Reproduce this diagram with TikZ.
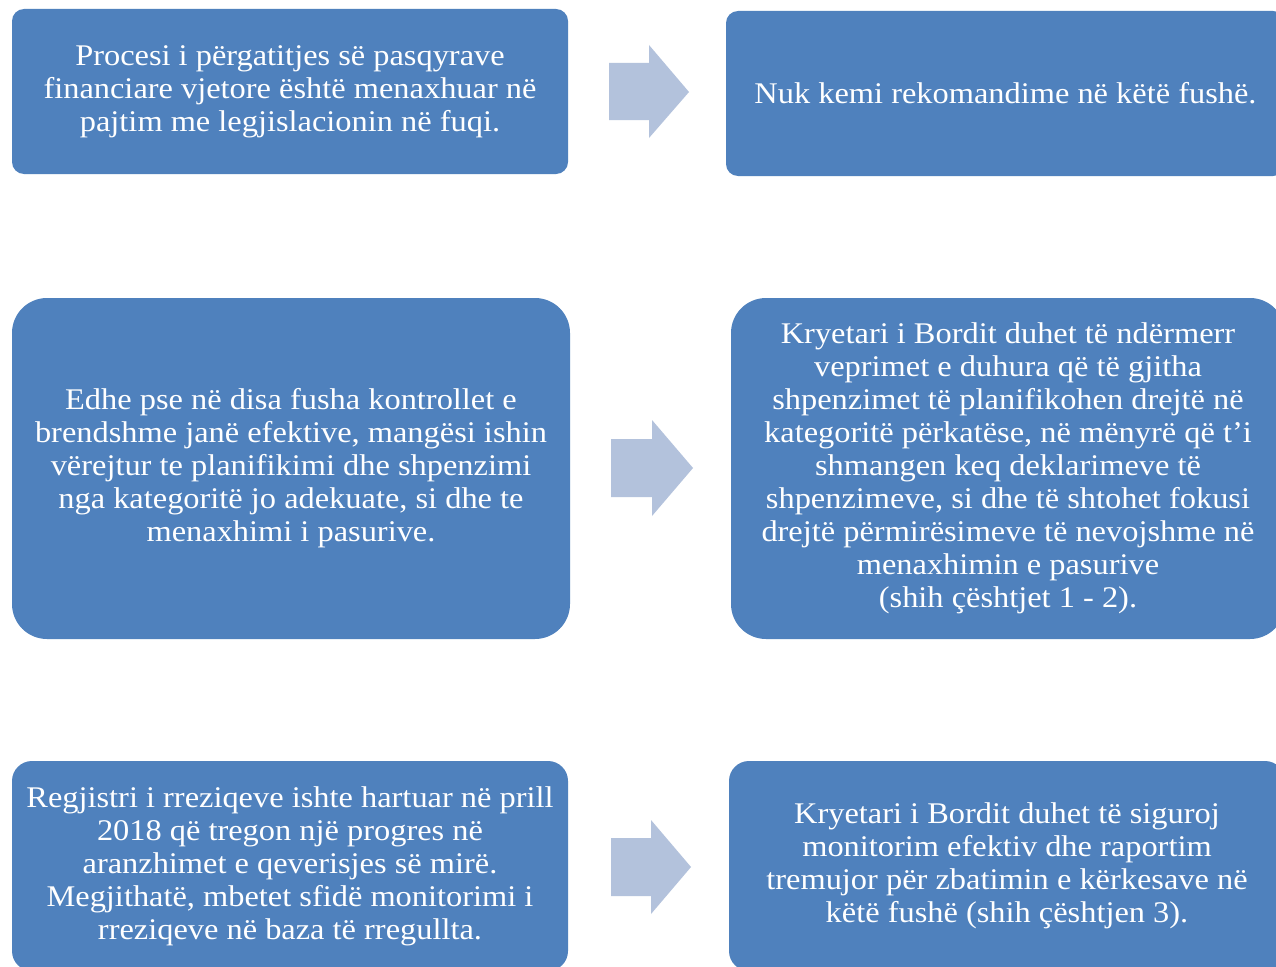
\documentclass[tikz,border=0pt]{standalone}
\usepackage{fontspec}
\setmainfont{Liberation Serif}[FakeStretch=1.08]
\definecolor{boxblue}{HTML}{4F81BD}
\definecolor{arrowblue}{HTML}{B3C2DC}
\begin{document}
\begin{tikzpicture}[x=1pt,y=-1pt,
  box/.style={fill=boxblue, draw=none, text=white, align=center,
    font=\fontsize{30}{33}\selectfont, inner sep=0pt},
  blockarrow/.style={fill=arrowblue, draw=none}]
\clip (0,0) rectangle (1276,966);
\fill[white] (0,0) rectangle (1276,966);
% boxes
\node[box, rounded corners=12pt, minimum width=556pt, minimum height=165pt] (b1) at (290,91.5)
  {Procesi i përgatitjes së pasqyrave\\financiare vjetore është menaxhuar në\\pajtim me legjislacionin në fuqi.};
\node[box, rounded corners=12pt, minimum width=559pt, minimum height=165pt] (b2) at (1005.5,93.5)
  {Nuk kemi rekomandime në këtë fushë.};
\node[box, rounded corners=35pt, minimum width=558pt, minimum height=341pt] (b3) at (291,468.5)
  {Edhe pse në disa fusha kontrollet e\\brendshme janë efektive, mangësi ishin\\vërejtur te planifikimi dhe shpenzimi\\nga kategoritë jo adekuate, si dhe te\\menaxhimi i pasurive.};
\node[box, rounded corners=35pt, minimum width=554pt, minimum height=341pt] (b4) at (1008,468.5)
  {Kryetari i Bordit duhet të ndërmerr\\veprimet e duhura që të gjitha\\shpenzimet të planifikohen drejtë në\\kategoritë përkatëse, në mënyrë që t’i\\shmangen keq deklarimeve të\\shpenzimeve, si dhe të shtohet fokusi\\drejtë përmirësimeve të nevojshme në\\menaxhimin e pasurive\\(shih çështjet 1 - 2).};
\node[box, rounded corners=20pt, minimum width=556pt, minimum height=210pt] (b5) at (290,866)
  {Regjistri i rreziqeve ishte hartuar në prill\\2018 që tregon një progres në\\aranzhimet e qeverisjes së mirë.\\Megjithatë, mbetet sfidë monitorimi i\\rreziqeve në baza të rregullta.};
\node[box, rounded corners=20pt, minimum width=556pt, minimum height=210pt] (b6) at (1007,866)
  {Kryetari i Bordit duhet të siguroj\\monitorim efektiv dhe raportim\\tremujor për zbatimin e kërkesave në\\këtë fushë (shih çështjen 3).};
% block arrows
\fill[blockarrow] (609,63) -- (649,63) -- (649,45) -- (689,92) -- (649,138) -- (649,120) -- (609,120) -- cycle;
\fill[blockarrow] (611,439) -- (652,439) -- (652,420) -- (693,468) -- (652,516) -- (652,497) -- (611,497) -- cycle;
\fill[blockarrow] (611,838) -- (651,838) -- (651,820) -- (691,867) -- (651,914) -- (651,896) -- (611,896) -- cycle;
\end{tikzpicture}
\end{document}
